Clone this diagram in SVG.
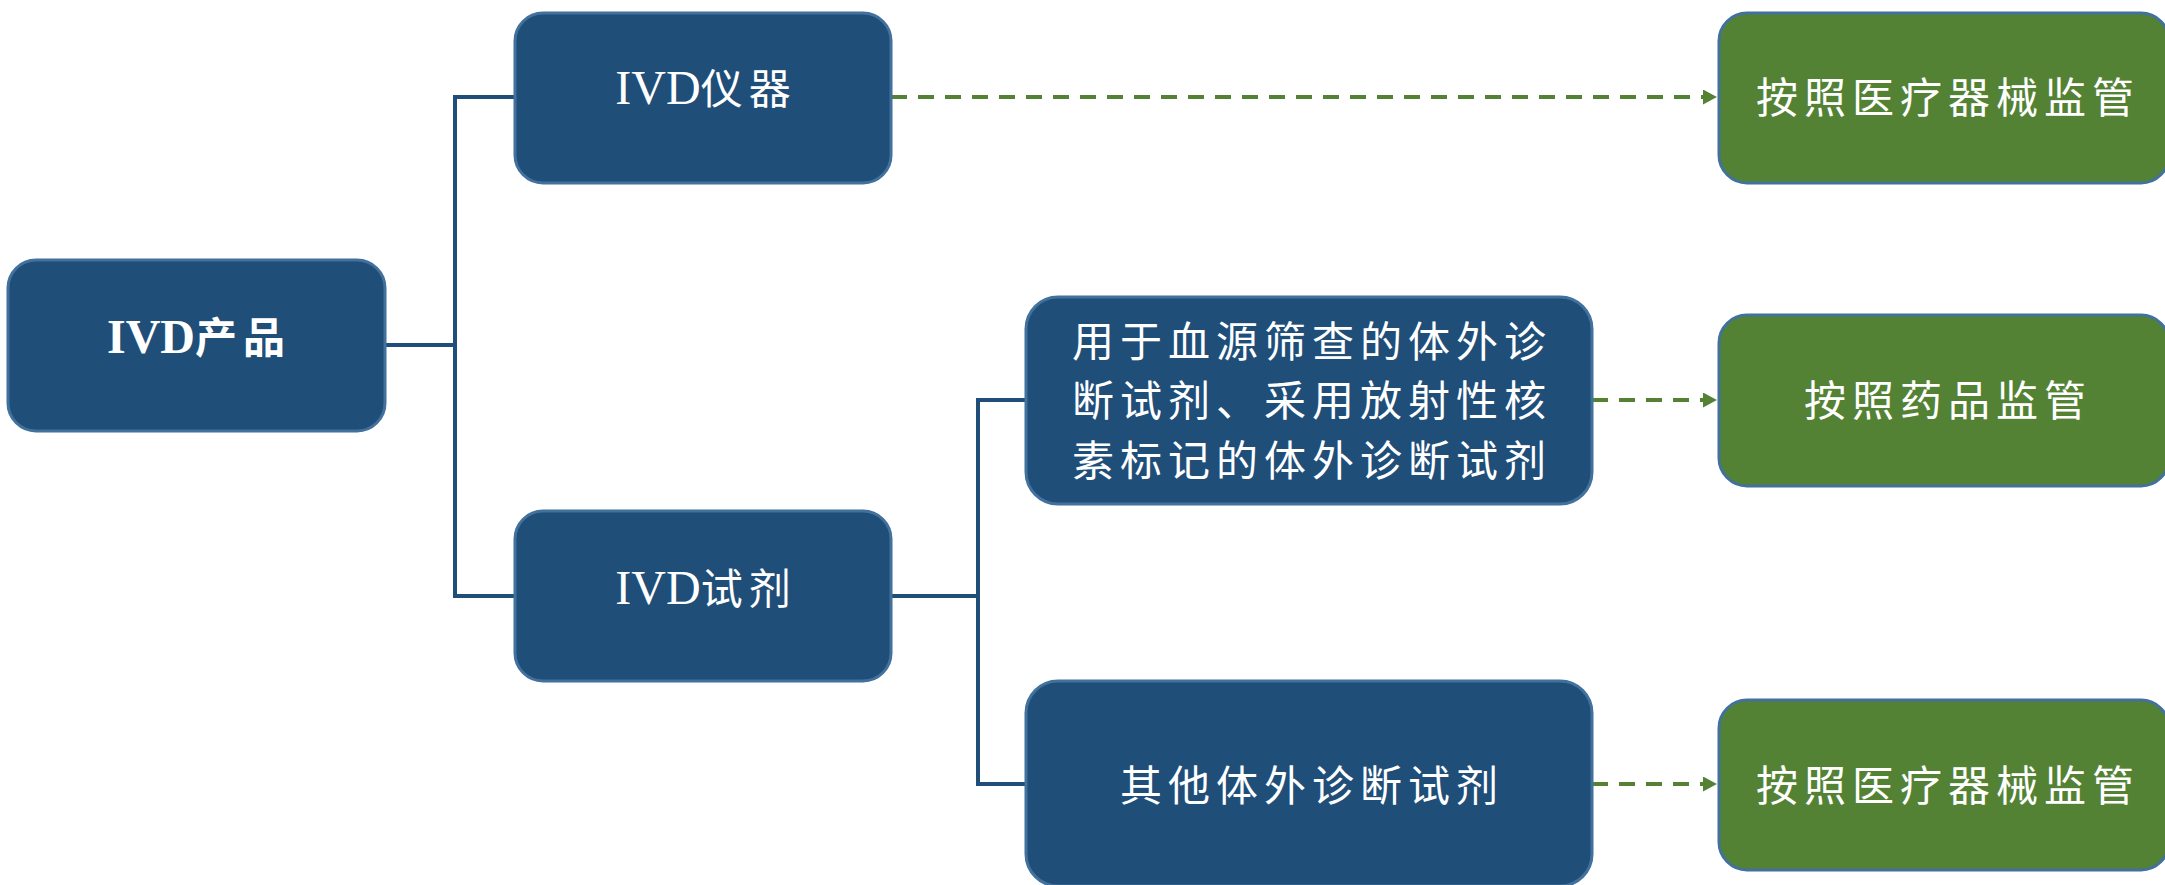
<svg xmlns="http://www.w3.org/2000/svg" width="2165" height="885" viewBox="0 0 2165 885">
<style>
.blue{fill:#1F4E79;stroke:#41719C;stroke-width:3}
.green{fill:#548235;stroke:#41719C;stroke-width:3}
.t{fill:#FFFFFF;font-family:"Liberation Serif","Noto Sans CJK SC",serif;font-size:42px;letter-spacing:6px;text-anchor:middle}
.lat{font-family:"Liberation Serif",serif;font-size:48px;letter-spacing:0}
.b{font-weight:bold}
.tree{fill:none;stroke:#1F4E79;stroke-width:4}
.dash{fill:none;stroke:#548235;stroke-width:4;stroke-dasharray:16 11}
</style>
<defs>
<marker id="arr" markerUnits="userSpaceOnUse" markerWidth="16" markerHeight="16" refX="0" refY="7.5" orient="auto">
<path d="M0,0 L14,7.5 L0,15 Z" fill="#548235"/>
</marker>
</defs>
<rect width="2165" height="885" fill="#FFFFFF"/>
<g id="connectors">
<path class="tree" d="M385,345 H455"/>
<path class="tree" d="M515,97 H455 V596 H515"/>
<path class="tree" d="M891,596 H978"/>
<path class="tree" d="M1026,400 H978 V784 H1026"/>
<path class="dash" d="M891,97 H1703" marker-end="url(#arr)"/>
<path class="dash" d="M1592,400 H1703" marker-end="url(#arr)"/>
<path class="dash" d="M1592,784 H1703" marker-end="url(#arr)"/>
</g>
<g id="node-ivd-product">
<rect class="blue" x="8" y="260" width="377" height="171" rx="28"/>
<text class="t b" x="199" y="353"><tspan class="lat">IVD</tspan>产品</text>
</g>
<g id="node-ivd-instrument">
<rect class="blue" x="515" y="13" width="376" height="170" rx="28"/>
<text class="t" x="706" y="104"><tspan class="lat">IVD</tspan>仪器</text>
</g>
<g id="node-ivd-reagent">
<rect class="blue" x="515" y="511" width="376" height="170" rx="28"/>
<text class="t" x="706" y="604"><tspan class="lat">IVD</tspan>试剂</text>
</g>
<g id="node-blood">
<rect class="blue" x="1026" y="297" width="566" height="207" rx="32"/>
<text class="t" x="1312" y="357">用于血源筛查的体外诊</text>
<text class="t" x="1312" y="416">断试剂、采用放射性核</text>
<text class="t" x="1312" y="476">素标记的体外诊断试剂</text>
</g>
<g id="node-other">
<rect class="blue" x="1026" y="681" width="566" height="205" rx="32"/>
<text class="t" x="1312" y="801">其他体外诊断试剂</text>
</g>
<g id="node-device-reg-1">
<rect class="green" x="1719" y="13" width="450" height="170" rx="28"/>
<text class="t" x="1948" y="113">按照医疗器械监管</text>
</g>
<g id="node-drug-reg">
<rect class="green" x="1719" y="315" width="450" height="171" rx="28"/>
<text class="t" x="1948" y="416">按照药品监管</text>
</g>
<g id="node-device-reg-2">
<rect class="green" x="1719" y="700" width="450" height="170" rx="28"/>
<text class="t" x="1948" y="801">按照医疗器械监管</text>
</g>
</svg>
